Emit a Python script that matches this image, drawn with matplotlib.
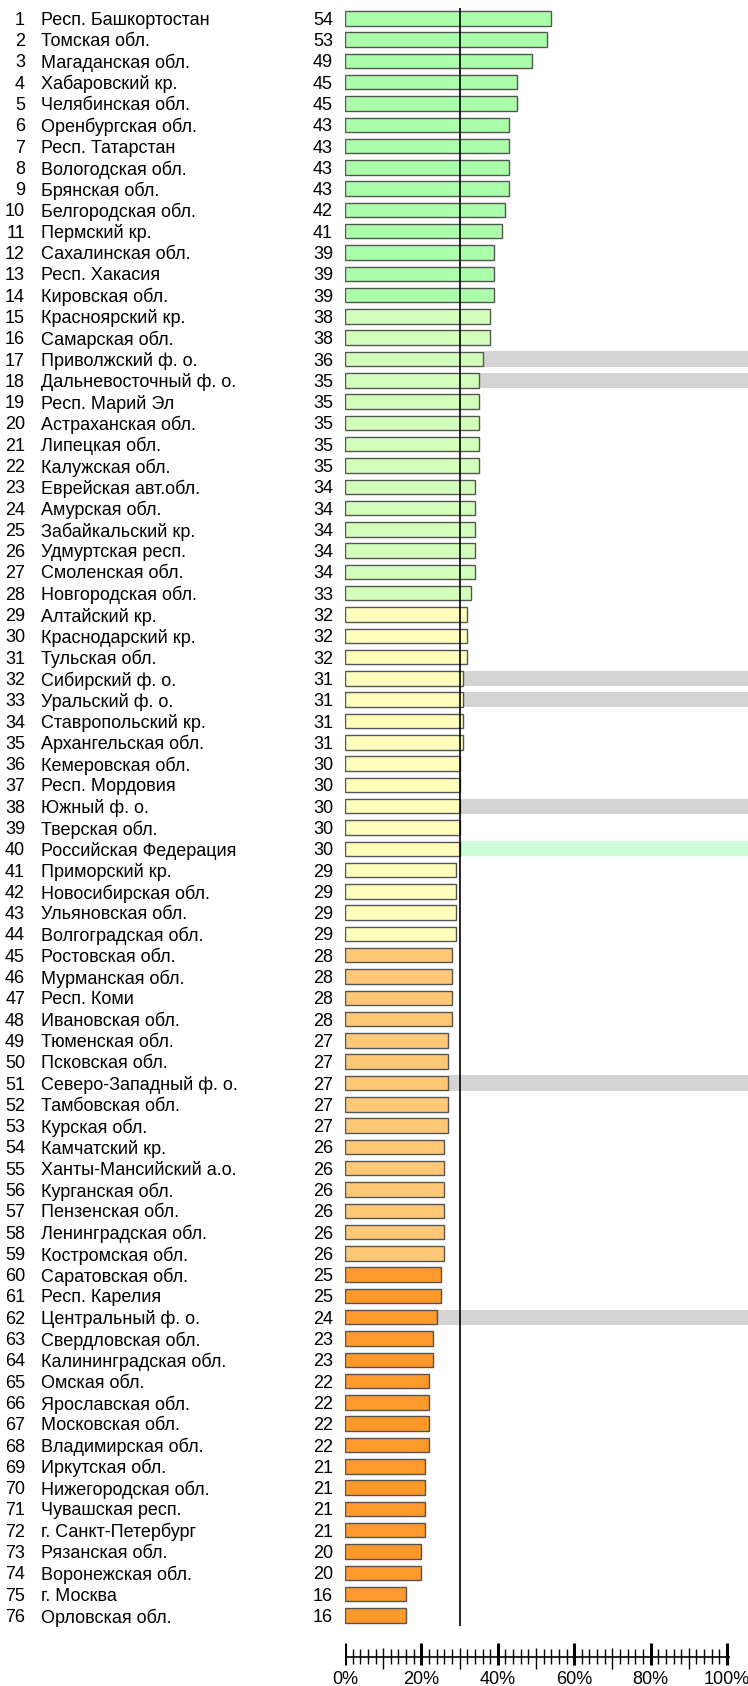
import matplotlib
matplotlib.use("Agg")
import matplotlib.pyplot as plt
import matplotlib.transforms as mtransforms
import numpy as np

plt.rcParams['font.family'] = ['Liberation Sans', 'DejaVu Sans']

names = [
    "Респ. Башкортостан", "Томская обл.", "Магаданская обл.", "Хабаровский кр.",
    "Челябинская обл.", "Оренбургская обл.", "Респ. Татарстан", "Вологодская обл.",
    "Брянская обл.", "Белгородская обл.", "Пермский кр.", "Сахалинская обл.",
    "Респ. Хакасия", "Кировская обл.", "Красноярский кр.", "Самарская обл.",
    "Приволжский ф. о.", "Дальневосточный ф. о.", "Респ. Марий Эл", "Астраханская обл.",
    "Липецкая обл.", "Калужская обл.", "Еврейская авт.обл.", "Амурская обл.",
    "Забайкальский кр.", "Удмуртская респ.", "Смоленская обл.", "Новгородская обл.",
    "Алтайский кр.", "Краснодарский кр.", "Тульская обл.", "Сибирский ф. о.",
    "Уральский ф. о.", "Ставропольский кр.", "Архангельская обл.", "Кемеровская обл.",
    "Респ. Мордовия", "Южный ф. о.", "Тверская обл.", "Российская Федерация",
    "Приморский кр.", "Новосибирская обл.", "Ульяновская обл.", "Волгоградская обл.",
    "Ростовская обл.", "Мурманская обл.", "Респ. Коми", "Ивановская обл.",
    "Тюменская обл.", "Псковская обл.", "Северо-Западный ф. о.", "Тамбовская обл.",
    "Курская обл.", "Камчатский кр.", "Ханты-Мансийский а.о.", "Курганская обл.",
    "Пензенская обл.", "Ленинградская обл.", "Костромская обл.", "Саратовская обл.",
    "Респ. Карелия", "Центральный ф. о.", "Свердловская обл.", "Калининградская обл.",
    "Омская обл.", "Ярославская обл.", "Московская обл.", "Владимирская обл.",
    "Иркутская обл.", "Нижегородская обл.", "Чувашская респ.", "г. Санкт-Петербург",
    "Рязанская обл.", "Воронежская обл.", "г. Москва", "Орловская обл.",
]
values = [
    54, 53, 49, 45, 45, 43, 43, 43, 43, 42, 41, 39, 39, 39, 38, 38,
    36, 35, 35, 35, 35, 35, 34, 34, 34, 34, 34, 33, 32, 32, 32, 31,
    31, 31, 31, 30, 30, 30, 30, 30, 29, 29, 29, 29, 28, 28, 28, 28,
    27, 27, 27, 27, 27, 26, 26, 26, 26, 26, 26, 25, 25, 24, 23, 23,
    22, 22, 22, 22, 21, 21, 21, 21, 20, 20, 16, 16,
]
# colour group of each row (1..5)
groups = [1] * 14 + [2] * 14 + [3] * 16 + [4] * 15 + [5] * 17
group_colors = {1: "#aaffaa", 2: "#d2ffb9", 3: "#ffffbb", 4: "#ffc877", 5: "#ff992b"}
federal_districts = ["Приволжский ф. о.", "Дальневосточный ф. о.", "Сибирский ф. о.",
                     "Уральский ф. о.", "Южный ф. о.", "Северо-Западный ф. о.",
                     "Центральный ф. о."]
country = "Российская Федерация"
reference_value = 30
scale_ticks = np.arange(0, 101, 2)
scale_labels = [0, 20, 40, 60, 80, 100]

W, H = 748, 1686
fig = plt.figure(figsize=(W / 100, H / 100), dpi=100)

px_per_pct = 3.82
x0 = 345
xmax = (W - x0) / px_per_pct
top, bottom = 7.65, 1626
ax = fig.add_axes([x0 / W, 1 - bottom / H, (W - x0) / W, (bottom - top) / H])
n = len(values)
y = np.arange(n)
ax.set_xlim(0, xmax)
ax.set_ylim(n - 0.5, -0.5)
ax.axis('off')

vals = np.array(values, dtype=float)
colors = [group_colors[g] for g in groups]

# highlight bands
for i, nm in enumerate(names):
    if nm in federal_districts:
        ax.barh(i, xmax - vals[i], left=vals[i], height=0.72, color="#d4d4d4",
                edgecolor='none', zorder=1)
    elif nm == country:
        ax.barh(i, xmax - vals[i], left=vals[i], height=0.72, color="#ccffd8",
                edgecolor='none', zorder=1)

ax.barh(y, vals, height=0.68, color=colors, edgecolor="#555555", linewidth=1.0, zorder=2)
ax.axvline(reference_value, color="black", lw=1.2, zorder=3)

trans = mtransforms.blended_transform_factory(fig.transFigure, ax.transData)
fs = 13
for i in range(n):
    ax.text(25 / W, i, str(i + 1), transform=trans, ha='right', va='center_baseline',
            fontsize=fs)
    ax.text(41 / W, i, names[i], transform=trans, ha='left', va='center_baseline',
            fontsize=fs)
    ax.text(333 / W, i, f"{values[i]:g}", transform=trans, ha='right',
            va='center_baseline', fontsize=fs)

# scale axis
ax2 = fig.add_axes([x0 / W, 0, (W - x0) / W, 60 / H])
ax2.set_xlim(0, xmax)
ax2.set_ylim(1686, 1626)
ax2.axis('off')
ax2.hlines(1657, 0, 100.8, color='black', lw=1.2)
for t in scale_ticks:
    if t % 20 == 0:
        ax2.vlines(t, 1643, 1665, color='black', lw=2.2)
    elif t % 10 == 0:
        ax2.vlines(t, 1648, 1669, color='black', lw=1.0)
    else:
        ax2.vlines(t, 1649, 1664, color='black', lw=1.0)
for t in scale_labels:
    ax2.text(t, 1678, f"{t}%", ha='center', va='center_baseline', fontsize=fs)

fig.savefig("out.png", dpi=100)
